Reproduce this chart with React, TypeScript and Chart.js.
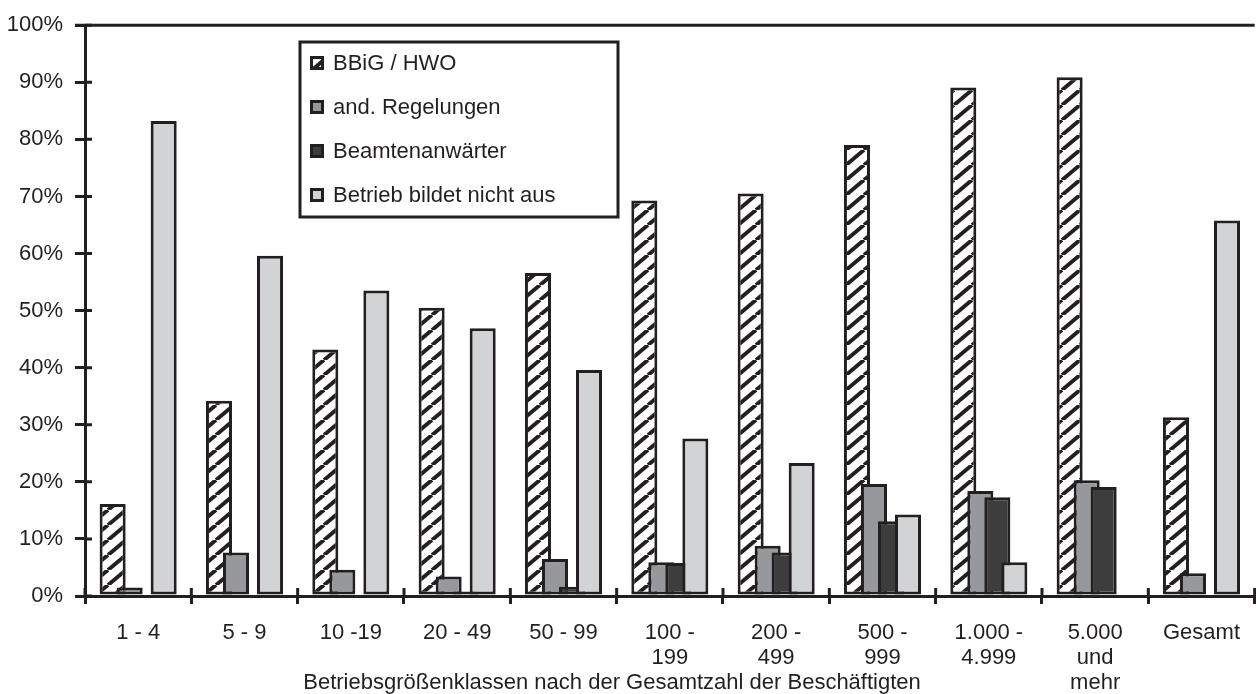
import React, { useEffect, useRef } from "react";
import { Chart, registerables } from "chart.js";

Chart.register(...registerables);

// ---------- data ----------
const categories: (string | string[])[] = [
  "1 - 4",
  "5 - 9",
  "10 -19",
  "20 - 49",
  "50 - 99",
  ["100 -", "199"],
  ["200 -", "499"],
  ["500 -", "999"],
  ["1.000 -", "4.999"],
  ["5.000", "und", "mehr"],
  "Gesamt",
];
const seriesNames = ["BBiG / HWO", "and. Regelungen", "Beamtenanwärter", "Betrieb bildet nicht aus"];
const bbigHwo = [16.1, 34.2, 43.2, 50.5, 56.6, 69.3, 70.5, 79.0, 89.1, 90.9, 31.3];
const andRegelungen = [1.5, 7.6, 4.6, 3.4, 6.5, 5.9, 8.8, 19.6, 18.4, 20.3, 4.0];
const beamtenanwaerter = [null, null, null, 0.8, 1.6, 5.8, 7.6, 13.1, 17.3, 19.1, null];
const nichtAus = [83.2, 59.6, 53.5, 46.9, 39.6, 27.6, 23.3, 14.3, 5.9, null, 65.8];
const yTickValues = [0, 10, 20, 30, 40, 50, 60, 70, 80, 90, 100];
const xAxisTitle = "Betriebsgrößenklassen nach der Gesamtzahl der Beschäftigten";

// ---------- styles ----------
const INK = "#231f20";
const GRAY = "#97989b";
const DARK = "#3d3d3e";
const LIGHT = "#d2d3d5";
const FONT = "'Liberation Sans', Arial, Helvetica, sans-serif";

function makeHatch(): CanvasPattern | string {
  const c = document.createElement("canvas");
  const w = 18;
  const h = 15;
  c.width = w;
  c.height = h;
  const g = c.getContext("2d");
  if (!g) return "#ffffff";
  g.fillStyle = "#ffffff";
  g.fillRect(0, 0, w, h);
  g.strokeStyle = INK;
  g.lineWidth = 4;
  for (const dx of [-w, 0, w]) {
    g.beginPath();
    g.moveTo(dx, h);
    g.lineTo(dx + w, 0);
    g.stroke();
  }
  return g.createPattern(c, "repeat") || "#ffffff";
}

export default function App() {
  const ref = useRef<HTMLCanvasElement | null>(null);

  useEffect(() => {
    const canvas = ref.current;
    if (!canvas) return;
    const hatch = makeHatch();
    const fills: any[] = [hatch, GRAY, DARK, LIGHT];

    const drawOrderPlugin = {
      id: "drawOrder",
      beforeDatasetsDraw(chart: any) {
        for (let i = 0; i < chart.data.datasets.length; i++) {
          const meta = chart.getDatasetMeta(i);
          if (!meta.hidden) meta.controller.draw();
        }
        return false;
      },
    };

    const decoPlugin = {
      id: "deco",
      afterDraw(chart: any) {
        const { ctx, chartArea, scales } = chart;
        const xs = scales.x;
        const ys = scales.y;
        ctx.save();
        ctx.strokeStyle = INK;
        ctx.lineWidth = 3;
        ctx.lineCap = "butt";
        // top frame line
        ctx.beginPath();
        ctx.moveTo(chartArea.left - 10, chartArea.top);
        ctx.lineTo(chartArea.right, chartArea.top);
        ctx.stroke();
        // inner halves of tick marks
        ctx.beginPath();
        for (const v of yTickValues) {
          const py = ys.getPixelForValue(v);
          ctx.moveTo(chartArea.left, py);
          ctx.lineTo(chartArea.left + 7, py);
        }
        for (let i = 0; i <= categories.length; i++) {
          const px = xs.getPixelForValue(i - 0.5);
          ctx.moveTo(px, chartArea.bottom);
          ctx.lineTo(px, chartArea.bottom - 8);
        }
        ctx.stroke();

        // axis title
        ctx.fillStyle = INK;
        ctx.font = `22px ${FONT}`;
        ctx.textAlign = "center";
        ctx.textBaseline = "middle";
        ctx.fillText(xAxisTitle, 612, 683);

        // legend
        const lx = 300;
        const ly = 42;
        const lw = 318;
        const lh = 175;
        ctx.fillStyle = "#ffffff";
        ctx.fillRect(lx, ly, lw, lh);
        ctx.lineWidth = 3;
        ctx.strokeStyle = INK;
        ctx.strokeRect(lx, ly, lw, lh);
        const rows = [63, 107, 151, 195];
        chart.data.datasets.forEach((ds: any, i: number) => {
          const cy = rows[i];
          ctx.fillStyle = fills[i];
          ctx.fillRect(310, cy - 7, 14, 14);
          ctx.lineWidth = 3;
          ctx.strokeStyle = INK;
          ctx.strokeRect(311.5, cy - 5.5, 11, 11);
          ctx.fillStyle = INK;
          ctx.font = `22px ${FONT}`;
          ctx.textAlign = "left";
          ctx.textBaseline = "middle";
          ctx.fillText(ds.label, 333, cy + 1);
        });
        ctx.restore();
      },
    };

    const chart = new Chart(canvas, {
      type: "bar",
      data: {
        labels: categories as any,
        datasets: [
          { label: seriesNames[0], data: bbigHwo, backgroundColor: hatch as any, borderColor: INK, borderWidth: 3 },
          { label: seriesNames[1], data: andRegelungen, backgroundColor: GRAY, borderColor: INK, borderWidth: 3 },
          { label: seriesNames[2], data: beamtenanwaerter as any, backgroundColor: DARK, borderColor: INK, borderWidth: 3 },
          { label: seriesNames[3], data: nichtAus as any, backgroundColor: LIGHT, borderColor: INK, borderWidth: 3 },
        ],
      },
      options: {
        responsive: false,
        animation: false,
        devicePixelRatio: 1,
        datasets: {
          bar: {
            categoryPercentage: 0.64,
            barPercentage: 1.53,
            borderSkipped: false,
          },
        },
        layout: { padding: { top: 21.5, left: 0, right: 0, bottom: 0 } },
        plugins: {
          legend: { display: false },
          tooltip: { enabled: false },
          title: { display: false },
        },
        scales: {
          x: {
            type: "category",
            offset: true,
            grid: {
              display: true,
              drawOnChartArea: false,
              drawTicks: true,
              tickLength: 8,
              tickWidth: 3,
              tickColor: INK,
              lineWidth: 3,
              color: INK,
              offset: true,
            },
            border: { display: true, color: INK, width: 3 },
            ticks: {
              autoSkip: false,
              maxRotation: 0,
              minRotation: 0,
              padding: 16,
              color: INK,
              font: { family: FONT, size: 22, lineHeight: "25px" as any },
            },
            afterFit: (scale: any) => {
              scale.height = 98;
            },
          },
          y: {
            min: 0,
            max: 100,
            grid: {
              display: true,
              drawOnChartArea: false,
              drawTicks: true,
              tickLength: 10,
              tickWidth: 3,
              tickColor: INK,
              lineWidth: 3,
              color: INK,
            },
            border: { display: true, color: INK, width: 3 },
            ticks: {
              stepSize: 10,
              padding: 12,
              color: INK,
              font: { family: FONT, size: 22 },
              callback: (v: any) => `${v}%`,
            },
            afterFit: (scale: any) => {
              scale.width = 85;
            },
          },
        },
      },
      plugins: [drawOrderPlugin, decoPlugin],
    });

    return () => chart.destroy();
  }, []);

  return (
    <div style={{ position: "absolute", left: 0, top: 0, width: 1256, height: 694, background: "#ffffff" }}>
      <canvas ref={ref} width={1256} height={694} style={{ display: "block" }} />
    </div>
  );
}
